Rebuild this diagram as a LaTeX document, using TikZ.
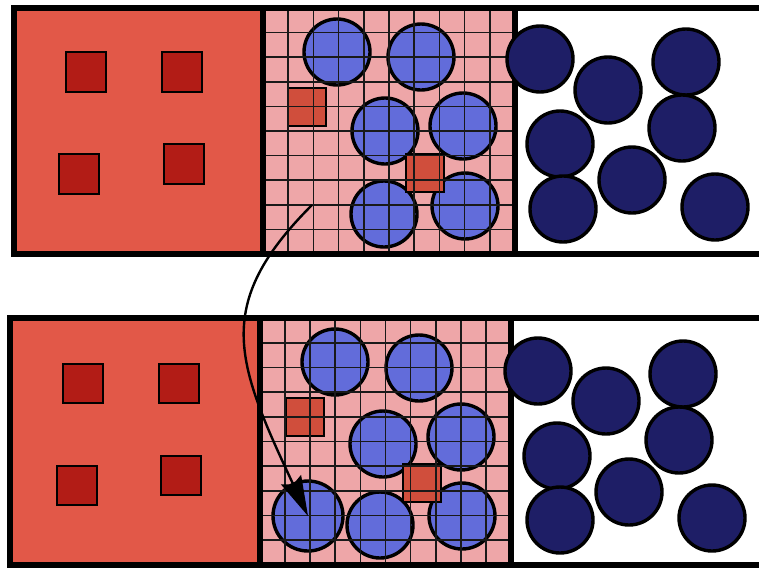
\documentclass[tikz,border=0pt]{standalone}
\usepackage{tikz}
\usetikzlibrary{arrows.meta}
\definecolor{slabred}{RGB}{226,88,72}
\definecolor{grainred}{RGB}{178,28,22}
\definecolor{meshpink}{RGB}{238,166,168}
\definecolor{inclred}{RGB}{208,78,60}
\definecolor{poreblue}{RGB}{98,108,218}
\definecolor{navy}{RGB}{30,30,102}

\begin{document}
\begin{tikzpicture}[x=1pt, y=-1pt, >=Latex,
 frame/.style={draw=black, line width=6pt},
 grain/.style={draw=black, line width=2.6pt, fill=grainred},
 incl/.style={draw=black, line width=2.2pt, fill=inclred},
 pore/.style={draw=black, line width=3.4pt, fill=poreblue},
 bead/.style={draw=black, line width=3.4pt, fill=navy},
 meshline/.style={draw=black!90, line width=1.7pt}]
\useasboundingbox (0,0) rectangle (759,571);

% top panel
\fill[slabred] (14,8) rectangle (263,254);
\fill[meshpink] (263,8) rectangle (515,254);
\fill[white] (515,8) rectangle (780,254);
\foreach \x/\y in {66/52, 162/52, 59/154, 164/144}
  \draw[grain] (\x,\y) rectangle ++(40,40);
\foreach \x/\y in {337/52, 421/57, 385/131, 463/126, 384/214, 465/206}
  \draw[pore] (\x,\y) circle[radius=33pt];
\foreach \x/\y in {288/88, 406/154}
  \draw[incl] (\x,\y) rectangle ++(38,38);
\foreach \i in {1,...,9} {
  \draw[meshline] ({263+\i*25.2},8) -- ({263+\i*25.2},254);
  \draw[meshline] (263,{8+\i*24.6}) -- (515,{8+\i*24.6});
}
\draw[frame] (14,8) rectangle (780,254);
\draw[frame] (263,8) -- (263,254);
\draw[frame] (515,8) -- (515,254);
\foreach \x/\y in {540/59, 608/90, 686/62, 560/144, 682/128, 632/180, 563/209, 715/207}
  \draw[bead] (\x,\y) circle[radius=33pt];

% bottom panel
\fill[slabred] (10,318) rectangle (260,565);
\fill[meshpink] (260,318) rectangle (511,565);
\fill[white] (511,318) rectangle (780,565);
\foreach \x/\y in {63/364, 159/364, 57/466, 161/456}
  \draw[grain] (\x,\y) rectangle ++(40,39);
\foreach \x/\y in {335/362, 419/368, 383/444, 461/437, 380/525, 462/516}
  \draw[pore] (\x,\y) circle[radius=33pt];
\draw[pore] (308,516) circle[radius=35pt];
\foreach \x/\y in {286/398, 403/464}
  \draw[incl] (\x,\y) rectangle ++(38,38);
\foreach \i in {1,...,9} {
  \draw[meshline] ({260+\i*25.1},318) -- ({260+\i*25.1},565);
  \draw[meshline] (260,{318+\i*24.7}) -- (511,{318+\i*24.7});
}
\draw[frame] (10,318) rectangle (780,565);
\draw[frame] (260,318) -- (260,565);
\draw[frame] (511,318) -- (511,565);
\foreach \x/\y in {538/371, 606/401, 683/374, 557/456, 679/440, 629/492, 560/520, 712/518}
  \draw[bead] (\x,\y) circle[radius=33pt];

% transfer arrow
\coordinate (from) at (312,205);
\coordinate (to) at (308,516);
\draw[-{Stealth[length=40pt,width=22pt,inset=5pt]}, line width=2.4pt] (from) .. controls (212,305) and (236,362) .. (to);
\end{tikzpicture}
\end{document}
